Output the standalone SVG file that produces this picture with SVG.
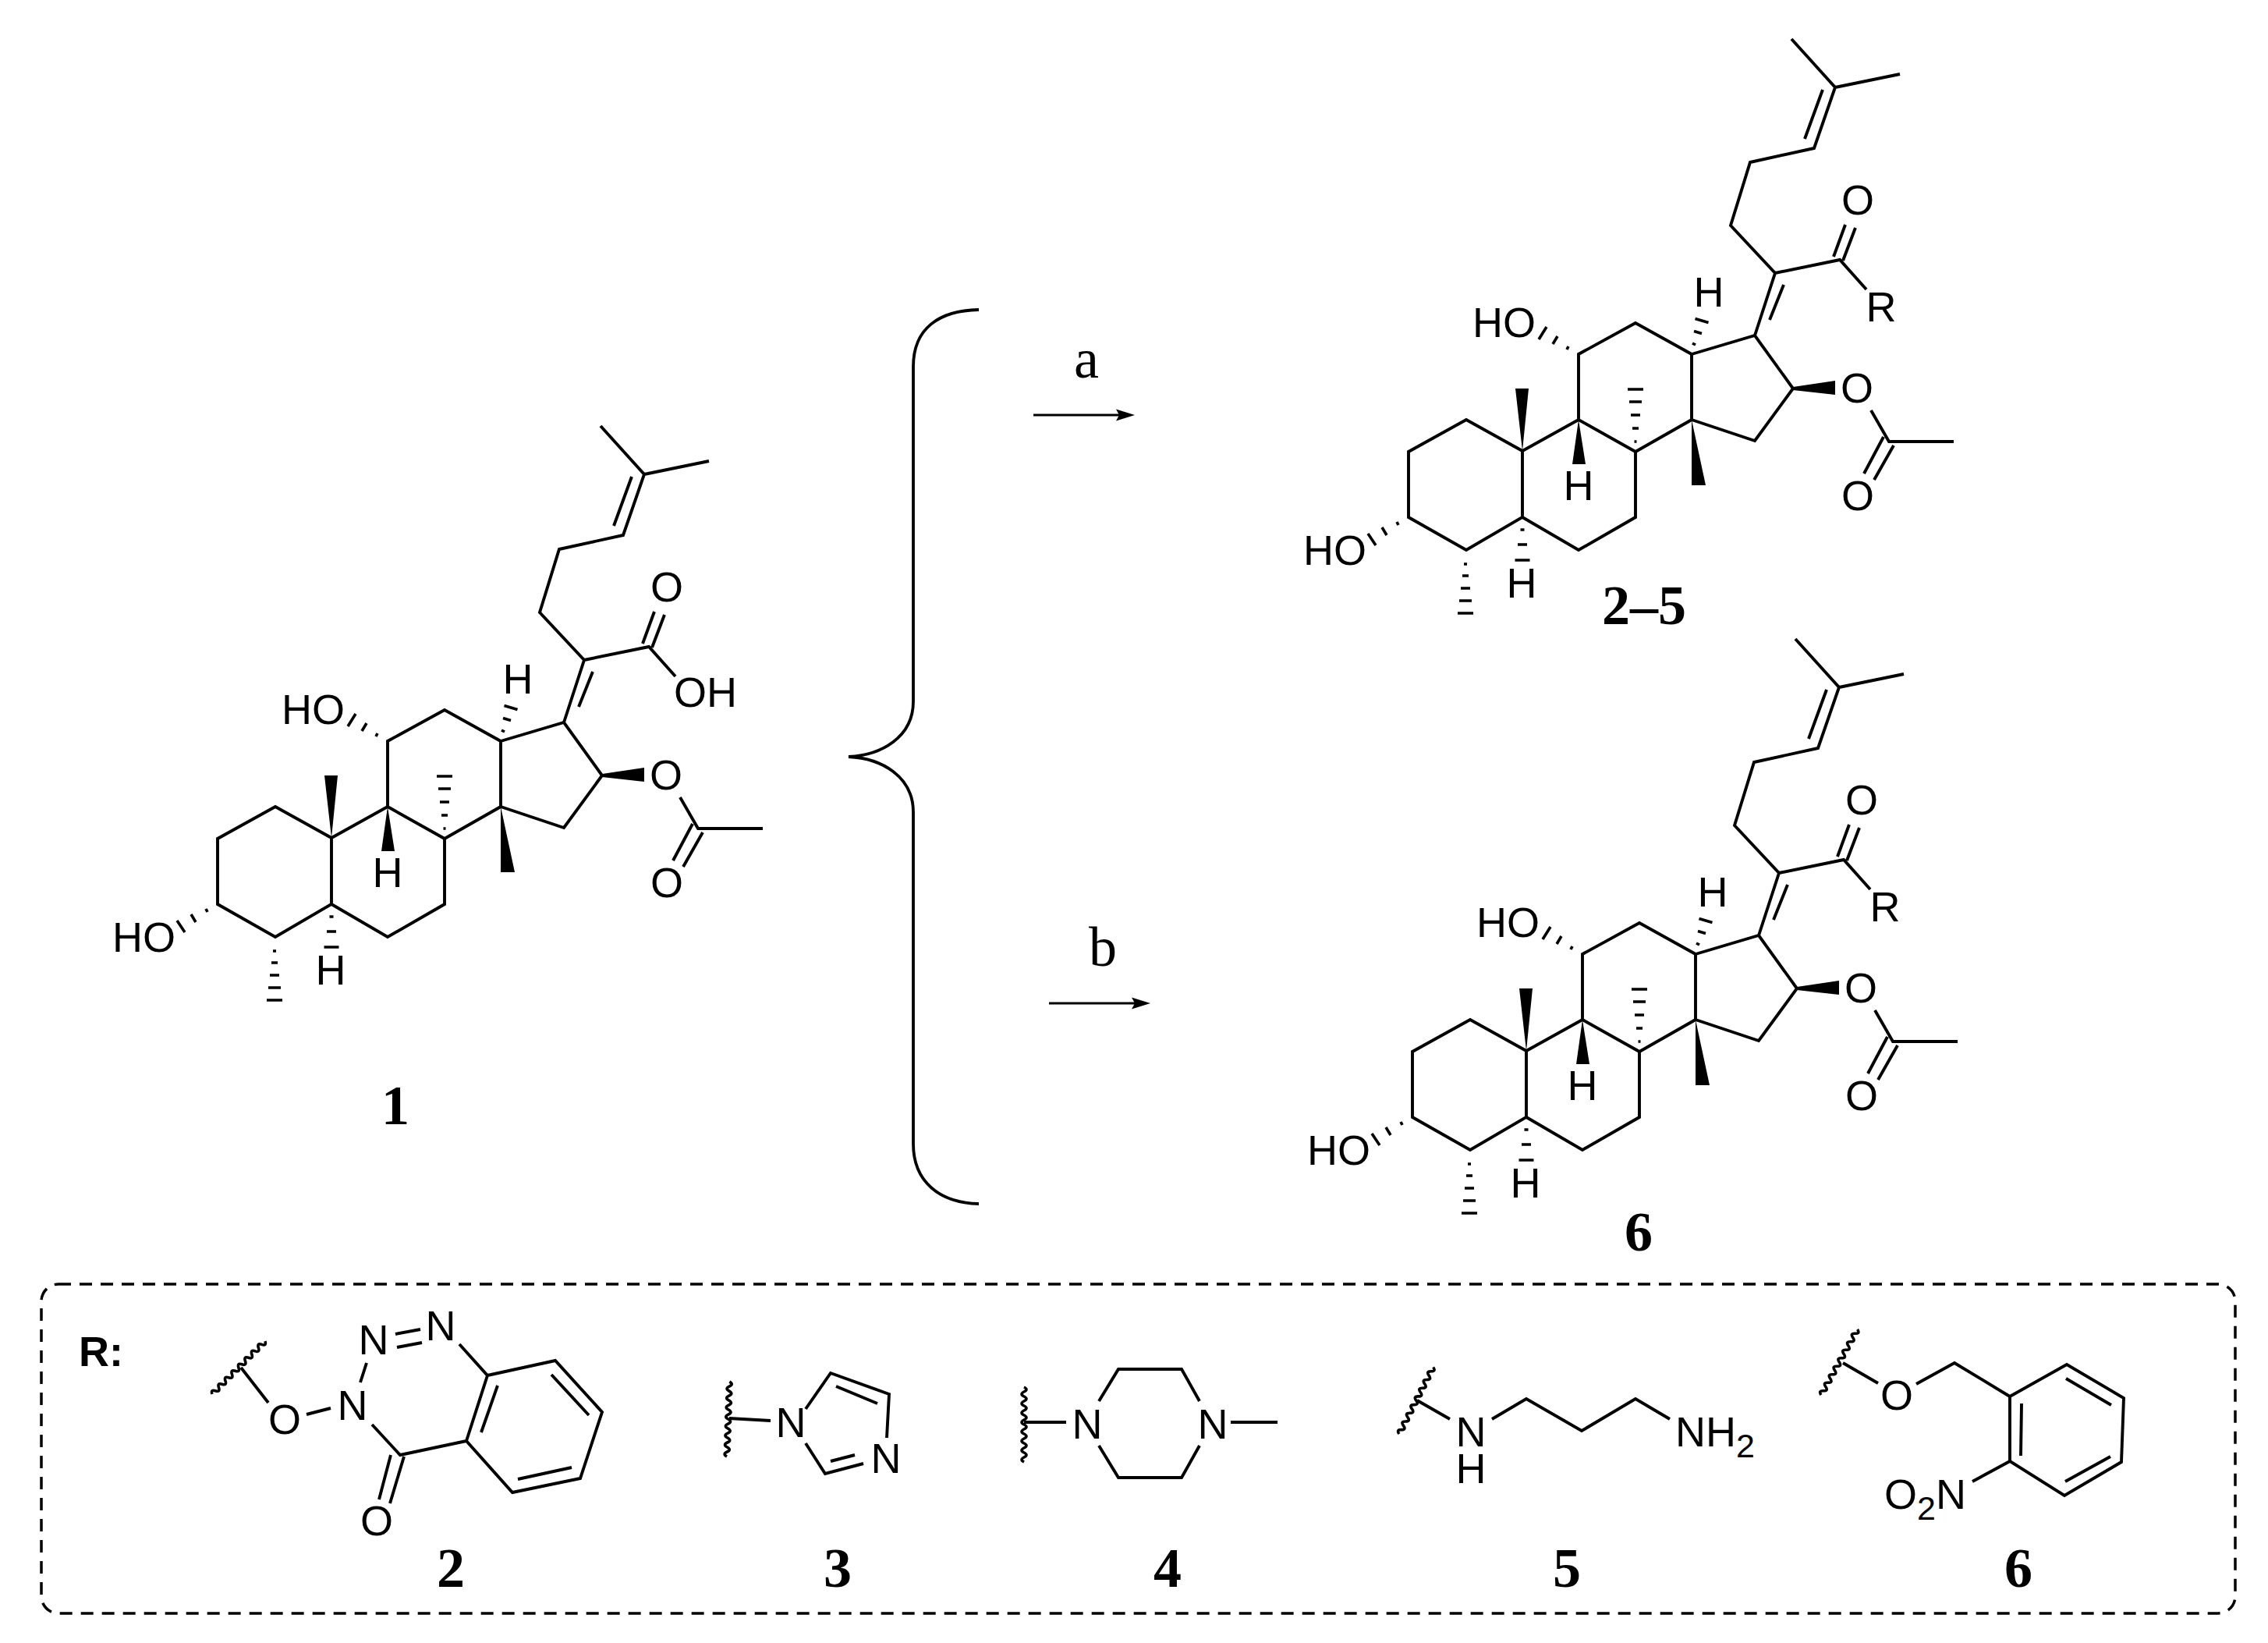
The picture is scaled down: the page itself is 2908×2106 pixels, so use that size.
<svg xmlns="http://www.w3.org/2000/svg" xmlns:xlink="http://www.w3.org/1999/xlink" width="2908" height="2106" viewBox="0 0 2908 2106">
<style>
.b{fill:none;stroke:#000;stroke-width:3.900;stroke-linejoin:miter;stroke-linecap:butt}
.h{fill:none;stroke:#000;stroke-width:3.600}
.w{fill:#000;stroke:none}
.wv{fill:none;stroke:#000;stroke-width:3.600;vector-effect:non-scaling-stroke}
.at{font-family:"Liberation Sans",Arial,sans-serif;font-size:54px;fill:#000}
.m{text-anchor:middle}
.lb{font-family:"Liberation Serif","Times New Roman",serif;font-size:72px;font-weight:bold;fill:#000;text-anchor:middle}
.rg{font-family:"Liberation Serif","Times New Roman",serif;font-size:72px;fill:#000;text-anchor:middle}
.r{font-family:"Liberation Sans",Arial,sans-serif;font-size:54px;font-weight:bold;fill:#000}
.sub{font-size:43px}
</style>
<defs>
<g id="core">
<path class="b" d="M279,1159V1075L353,1034L425,1074V1159L353,1201ZM425,1074L497,1034L570,1075V1159L497,1201L425,1159M497,1034V950L570,910L642,950V1034L570,1075M642,950L723,926L772,994L723,1061L642,1034"/>
<path class="b" d="M723,926L749,846L692,785L717,704L799,686L826,608L770,546M826,608L909,591M787,674L810,611M742,906L760,861M749,846L832,829L866,867M824,825L839,784M836,830L852,788"/>
<path class="b" d="M872,1022L895,1062H978M888,1056L863,1103M901,1067L876,1111"/>
<path class="w" d="M425,1074L416,994H433ZM497,1034L489,1091H506ZM642,1034L642,1118H660ZM772,992L826,984V1002L772,996Z"/>
<path class="h" d="M560,995H580M562,1011H578M564,1028H576M566,1045H574M568.500,1062H571.500M350,1219H354M348,1234H356M346,1250H358M344,1266H360M342,1282H362M422.500,1175H427.500M419,1194H431M415.500,1214H434.500M484,940L482,944M470,927L464,937M456,915L446,931M266,1169L264,1165M251,1182L245,1172M237,1195L227,1180M643,936L647,938M645,920.500L655,923.500M646.500,904.500L663.500,909.500"/>
</g>
<path id="wavy" class="wv" d="M0,0q3,-6 6,0t6,0t6,0t6,0t6,0t6,0t6,0t6,0t6,0t6,0t6,0t6,0t6,0t6,0t6,0t6,0"/>
<path id="head" d="M0,0L-24,-7.500L-20,0L-24,7.500Z" fill="#000"/>
</defs>

<g id="connectors">
<path id="brace" d="M1255,397C1205,398 1171,420 1171,470V899C1171,945 1130,968 1088,970C1130,972 1171,995 1171,1041V1466C1171,1515 1205,1542 1255,1543" fill="none" stroke="#000" stroke-width="3.800"/>
<path d="M1325,532H1437M1345,1286H1457" fill="none" stroke="#000" stroke-width="3"/>
<use href="#head" xlink:href="#head" transform="translate(1455,532)"/>
<use href="#head" xlink:href="#head" transform="translate(1475,1286)"/>
</g>

<g id="reaction-labels">
<text class="rg" x="1393" y="484">a</text>
<text class="rg" x="1414" y="1238">b</text>
</g>

<g id="compound-1">
<use href="#core" xlink:href="#core"/>
<text class="at" x="361" y="928">HO</text>
<text class="at" x="144" y="1220">HO</text>
<text class="at m" x="497" y="1137">H</text>
<text class="at m" x="424" y="1262">H</text>
<text class="at m" x="664" y="889">H</text>
<text class="at m" x="855" y="771">O</text>
<text class="at" x="864" y="906">OH</text>
<text class="at m" x="854" y="1012">O</text>
<text class="at m" x="855" y="1150">O</text>
<text class="lb" x="507" y="1441">1</text>
</g>

<g id="compound-2-5">
<use href="#core" xlink:href="#core" transform="translate(1527,-496)"/>
<text class="at" x="1888" y="432">HO</text>
<text class="at" x="1671" y="724">HO</text>
<text class="at m" x="2024" y="641">H</text>
<text class="at m" x="1951" y="766">H</text>
<text class="at m" x="2191" y="393">H</text>
<text class="at m" x="2382" y="275">O</text>
<text class="at m" x="2412" y="412">R</text>
<text class="at m" x="2381" y="516">O</text>
<text class="at m" x="2382" y="654">O</text>
<text class="lb" x="2108" y="800">2–5</text>
</g>

<g id="compound-6">
<use href="#core" xlink:href="#core" transform="translate(1532,273)"/>
<text class="at" x="1893" y="1201">HO</text>
<text class="at" x="1676" y="1493">HO</text>
<text class="at m" x="2029" y="1410">H</text>
<text class="at m" x="1956" y="1535">H</text>
<text class="at m" x="2196" y="1162">H</text>
<text class="at m" x="2387" y="1044">O</text>
<text class="at m" x="2417" y="1181">R</text>
<text class="at m" x="2386" y="1285">O</text>
<text class="at m" x="2387" y="1423">O</text>
<text class="lb" x="2101" y="1603">6</text>
</g>

<g id="r-box">
<rect x="53" y="1646" width="2813" height="422" rx="22" ry="22" fill="none" stroke="#000" stroke-width="3.500" stroke-dasharray="16 11"/>
<text class="r" x="101" y="1751">R:</text>
</g>

<g id="r-2">
<use href="#wavy" xlink:href="#wavy" transform="translate(272,1787) rotate(-45)"/>
<path class="b" d="M309,1753L344,1798M393,1813L424,1805M470,1747L462,1772M507,1710L539,1704M509,1727L541,1721M589,1723L625,1763L712,1744L772,1810L744,1895L657,1913L598,1847L625,1763M638,1776L617,1836M707,1762L755,1814M733,1881L664,1896M598,1847L513,1865L477,1826M501,1865L486,1922M518,1867L500,1927"/>
<text class="at m" x="365" y="1838">O</text>
<text class="at m" x="452" y="1820">N</text>
<text class="at m" x="479" y="1736">N</text>
<text class="at m" x="565" y="1718">N</text>
<text class="at m" x="483" y="1968">O</text>
<text class="lb" x="578" y="2034">2</text>
</g>

<g id="r-3">
<use href="#wavy" xlink:href="#wavy" transform="translate(932,1867) rotate(-88)"/>
<path class="b" d="M935,1818L988,1821M1033,1806L1065,1760L1140,1787L1137,1843M1072,1777L1125,1799M1033,1850L1058,1889L1107,1876M1065,1873L1096,1865"/>
<text class="at m" x="1014" y="1842">N</text>
<text class="at m" x="1136" y="1888">N</text>
<text class="lb" x="1074" y="2034">3</text>
</g>

<g id="r-4">
<use href="#wavy" xlink:href="#wavy" transform="translate(1313,1874) rotate(-90)"/>
<path class="b" d="M1313,1823H1367M1409,1796L1434,1755H1515L1538,1796M1409,1853L1434,1894H1515L1538,1853M1578,1823H1638"/>
<text class="at m" x="1394" y="1844">N</text>
<text class="at m" x="1555" y="1844">N</text>
<text class="lb" x="1497" y="2034">4</text>
</g>

<g id="r-5">
<use href="#wavy" xlink:href="#wavy" transform="translate(1794,1838) rotate(-63)"/>
<path class="b" d="M1817,1795L1859,1819M1913,1819L1957,1793L2028,1834L2097,1793L2141,1819"/>
<text class="at m" x="1886" y="1854">N<tspan x="1886" dy="47">H</tspan></text>
<text class="at" x="2148" y="1854">NH<tspan class="sub" dy="14">2</tspan></text>
<text class="lb" x="2009" y="2034">5</text>
</g>

<g id="r-6">
<use href="#wavy" xlink:href="#wavy" transform="translate(2335,1788) rotate(-61)"/>
<path class="b" d="M2363,1747L2408,1773M2457,1774L2506,1747L2577,1790M2577,1790L2650,1749L2723,1792L2720,1874L2647,1917L2577,1873L2577,1790ZM2592,1799L2591,1866M2649,1767L2707,1801M2706,1867L2648,1899M2577,1873L2529,1899"/>
<text class="at m" x="2432" y="1807">O</text>
<text class="at" x="2416" y="1934">O<tspan class="sub" dy="14">2</tspan><tspan dy="-14">N</tspan></text>
<text class="lb" x="2588" y="2034">6</text>
</g>
</svg>
